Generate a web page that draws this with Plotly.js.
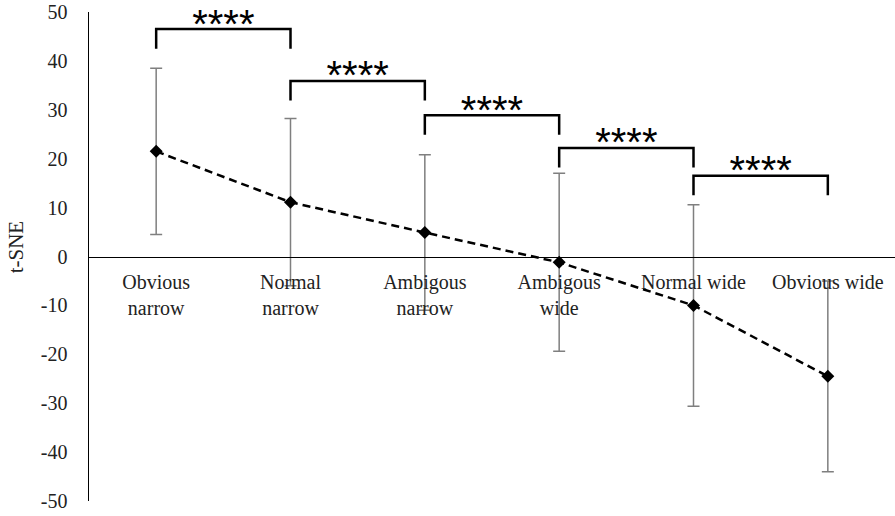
<!DOCTYPE html>
<html>
<head>
<meta charset="utf-8">
<script src="https://cdn.plot.ly/plotly-3.0.1.min.js"></script>
<style>html,body{margin:0;padding:0;background:#fff;}</style>
</head>
<body>
<div id="chart" style="width:895px;height:516px;"></div>
<script>
const categories = ['Obvious narrow','Normal narrow','Ambigous narrow','Ambigous wide','Normal wide','Obvious wide'];
const tickLabels = ['Obvious<br>narrow','Normal<br>narrow','Ambigous<br>narrow','Ambigous<br>wide','Normal wide','Obvious wide'];
const means = [21.5, 11.1, 4.9, -1.2, -10.0, -24.5];
const errors = [17.0, 17.1, 15.9, 18.2, 20.6, 19.5];
const yTicks = [50, 40, 30, 20, 10, 0, -10, -20, -30, -40, -50];
const yTitle = 't-SNE';
// significance brackets: pair start index, bracket top (data units), label
const bracketStart = [0, 1, 2, 3, 4];
const bracketTop = [46.5, 35.9, 28.9, 22.2, 16.5];
const bracketLabel = ['****', '****', '****', '****', '****'];
const legDrop = 4;
const labelLift = 0.3;

const shapes = [];
bracketStart.forEach((s, k) => {
  const top = bracketTop[k];
  shapes.push({type:'path', xref:'x', yref:'y',
    path: `M ${s},${top - legDrop} L ${s},${top} L ${s+1},${top} L ${s+1},${top - legDrop}`,
    line:{color:'#000', width:2.5}});
});

const starTrace = {
  type:'scatter', mode:'text', xaxis:'x2', yaxis:'y',
  x: bracketStart.map(s => s + 0.5),
  y: bracketTop.map(t => t + labelLift),
  text: bracketLabel, textposition:'middle center', cliponaxis:false,
  textfont:{family:'Liberation Sans, Arial, sans-serif', size:40, color:'#000'},
  hoverinfo:'skip'
};

const trace = {
  type:'scatter', mode:'lines+markers',
  x: categories, y: means,
  line:{color:'#000', width:2.5, dash:'8px,5px'},
  marker:{symbol:'diamond', size:10, color:'#000'},
  error_y:{type:'data', array:errors, visible:true, color:'#7f7f7f', thickness:1.5, width:6},
  hoverinfo:'skip'
};

const layout = {
  width:895, height:516,
  margin:{l:89, r:0, t:12, b:15},
  paper_bgcolor:'#fff', plot_bgcolor:'#fff',
  showlegend:false,
  font:{family:'Liberation Serif, Times New Roman, serif', size:20, color:'#222'},
  xaxis:{type:'category', categoryorder:'array', categoryarray:categories,
    tickvals:categories, ticktext:tickLabels, range:[-0.5, 5.5],
    anchor:'free', position:0.5, showline:true, linecolor:'#000', linewidth:1.5,
    showgrid:false, zeroline:false, ticks:'', ticklabelstandoff:7,
    tickfont:{family:'Liberation Serif, Times New Roman, serif', size:20, color:'#222'}},
  xaxis2:{type:'linear', range:[-0.5, 5.5], overlaying:'x', visible:false, anchor:'y'},
  yaxis:{range:[-50, 50], tickvals:yTicks, ticktext:yTicks.map(String),
    showline:true, linecolor:'#000', linewidth:1.5, showgrid:false, zeroline:false,
    ticks:'', ticklabelstandoff:16,
    tickfont:{family:'Liberation Serif, Times New Roman, serif', size:20, color:'#222'}},
  shapes: shapes,
  annotations: [{xref:'paper', yref:'paper', x:-0.091, y:0.52, text:yTitle,
    textangle:-90, showarrow:false, xanchor:'center', yanchor:'middle',
    font:{family:'Liberation Serif, Times New Roman, serif', size:21, color:'#222'}}]
};

Plotly.newPlot('chart', [trace, starTrace], layout, {staticPlot:true, displayModeBar:false});
</script>
</body>
</html>
